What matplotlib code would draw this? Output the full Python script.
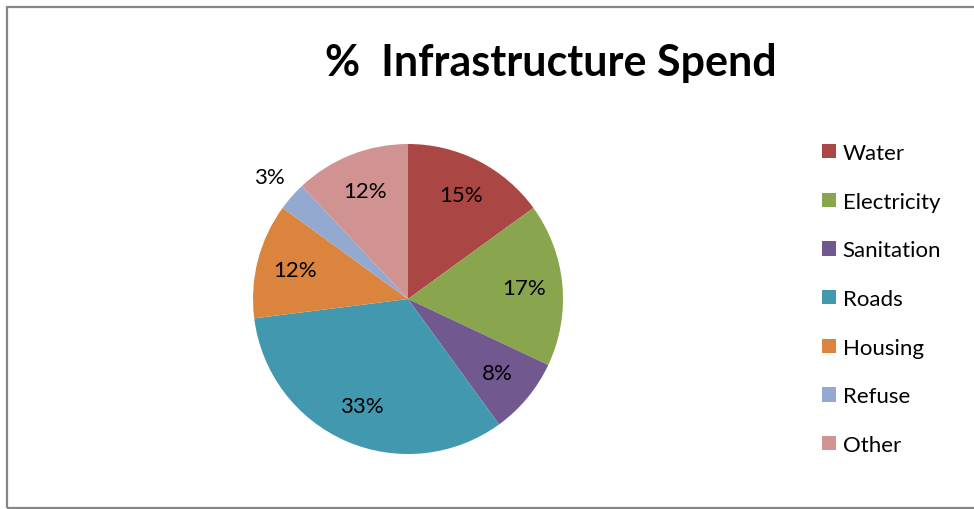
import matplotlib
matplotlib.use("Agg")
import matplotlib.pyplot as plt
from matplotlib.patches import Rectangle, Patch
import numpy as np

plt.rcParams['font.family'] = ['Lato', 'DejaVu Sans']

categories = ["Water", "Electricity", "Sanitation", "Roads", "Housing", "Refuse", "Other"]
shares = [15, 17, 8, 33, 12, 3, 12]
colors = ["#AA4643", "#89A54E", "#71588F", "#4198AF", "#DB843D", "#93A9CF", "#D19392"]
title = "%  Infrastructure Spend"

W, H = 974, 510
fig = plt.figure(figsize=(W / 100, H / 100), dpi=100)
fig.patch.set_facecolor("white")

# chart frame
fig.add_artist(Rectangle((7 / W, 1 / H), 1.2, (509 - 8) / H, transform=fig.transFigure,
                         fill=False, edgecolor="#878787", linewidth=1.6))

cx, cy, r = 408, 300, 155
ax = fig.add_axes([(cx - r) / W, (H - cy - r) / H, 2 * r / W, 2 * r / H])
wedges, texts, autotexts = ax.pie(
    shares, colors=colors, startangle=90, counterclock=False,
    autopct=lambda p: f"{p:.0f}%", pctdistance=0.75,
    textprops=dict(fontsize=16, color="black"),
    wedgeprops=dict(linewidth=0))
ax.set_xlim(-1, 1)
ax.set_ylim(-1, 1)
ax.set_aspect("equal")
ax.axis("off")

# small slices get their label outside the pie
for w, t, v in zip(wedges, autotexts, shares):
    if v < 5:
        ang = np.deg2rad((w.theta1 + w.theta2) / 2)
        t.set_position((1.19 * np.cos(ang), 1.19 * np.sin(ang)))

fig.text(551 / W, 1 - 63 / H, title, ha="center", va="center",
         fontsize=31, fontweight="bold")

handles = [Patch(facecolor=c, edgecolor="none") for c in colors]
fig.legend(handles, categories, loc="upper left", bbox_to_anchor=(822 / W, 1 - 144 / H),
           frameon=False, fontsize=16, handlelength=0.63, handleheight=0.63,
           handletextpad=0.3, labelspacing=1.29, borderpad=0, borderaxespad=0)

fig.savefig("out.png", dpi=100)
